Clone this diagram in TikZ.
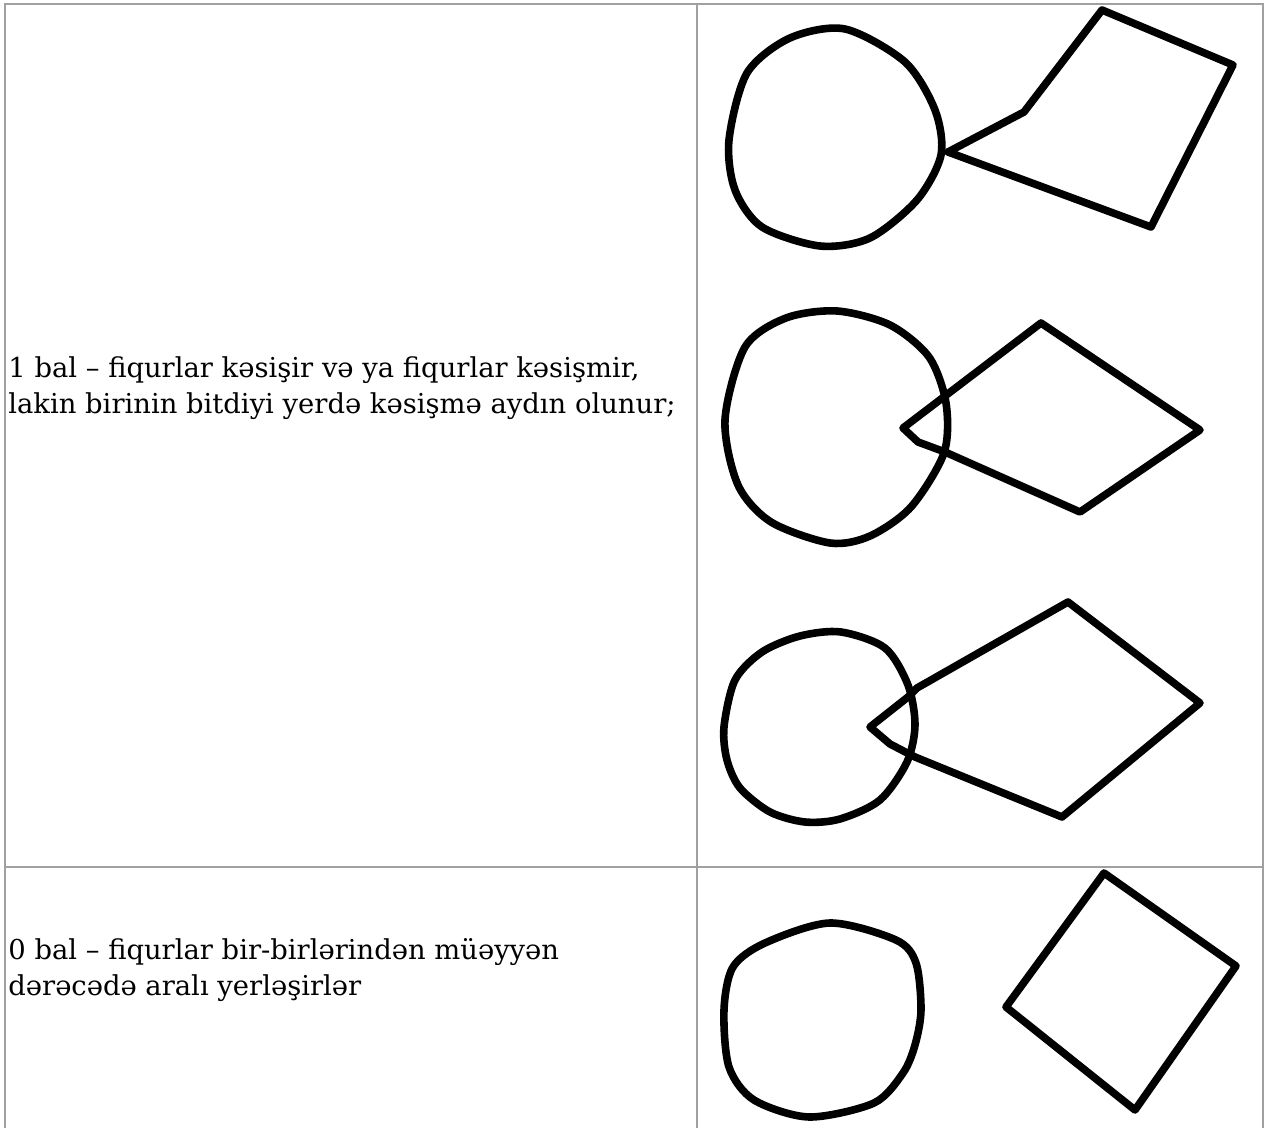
\documentclass[tikz,border=0pt]{standalone}
\usepackage{fontspec}
\setmainfont{DejaVu Serif}
\usepackage{tikz}
\usetikzlibrary{positioning}
\definecolor{gridgray}{RGB}{160,160,160}

\begin{document}
\begin{tikzpicture}[
    x=0.5pt, y=-0.5pt,
    grid/.style={draw=gridgray, line width=1pt},
    sketch/.style={draw=black, line width=3.8pt, line join=round, line cap=round},
    celltext/.style={anchor=base west, inner sep=0pt, font=\fontsize{13.7}{18}\selectfont}
]
    \useasboundingbox (0,0) rectangle (1266,1128);

    % table frame
    \draw[grid] (5,1128) -- (5,4) -- (1263,4) -- (1263,1128);
    \draw[grid] (697,4) -- (697,1128);
    \draw[grid] (5,867) -- (1263,867);

    % row 1 text
    \node[celltext] (rowonea) at (8,378) {1 bal -- fiqurlar kəsişir və ya fiqurlar kəsişmir,};
    \node[celltext] (rowoneb) at (8,414) {lakin birinin bitdiyi yerdə kəsişmə aydın olunur;};

    % row 2 text
    \node[celltext] (rowtwoa) at (8,960) {0 bal -- fiqurlar bir-birlərindən müəyyən};
    \node[celltext] (rowtwob) at (8,996) {dərəcədə aralı yerləşirlər};

    % figure 1: touching
    \draw[sketch] plot[smooth cycle] coordinates {(729,140) (747,73) (790,38) (845,29) (905,62) (935,110) (941,155) (917,200) (870,238) (820,246) (762,227) (735,190)};
    \draw[sketch] (948,152) -- (1024,112) -- (1102,10) -- (1233,65) -- (1151,227) -- cycle;

    % figure 2: overlapping
    \draw[sketch] plot[smooth cycle] coordinates {(725,420) (745,347) (786,318) (837,311) (890,325) (929,357) (946,403) (944,453) (911,507) (870,536) (830,543) (771,522) (738,485)};
    \draw[sketch] (903,428) -- (1041,323) -- (1200,430) -- (1080,512) -- (945,452) -- (918,442) -- cycle;

    % figure 3: overlapping
    \draw[sketch] plot[smooth cycle] coordinates {(724,727) (735,680) (762,652) (800,636) (841,632) (885,648) (908,685) (915,725) (907,762) (880,800) (840,819) (805,822) (770,812) (740,788) (727,760)};
    \draw[sketch] (917,688) -- (1068,602) -- (1200,703) -- (1062,817) -- (915,757) -- (890,744) -- (870,727) -- (908,697) -- cycle;

    % figure 4: apart
    \draw[sketch] plot[smooth cycle] coordinates {(724,1010) (733,967) (765,943) (830,923) (896,940) (916,963) (921,1010) (915,1045) (903,1073) (874,1103) (809,1117) (754,1100) (729,1067)};
    \draw[sketch] (1104,873) -- (1236,966) -- (1135,1110) -- (1006,1007) -- cycle;
\end{tikzpicture}
\end{document}
